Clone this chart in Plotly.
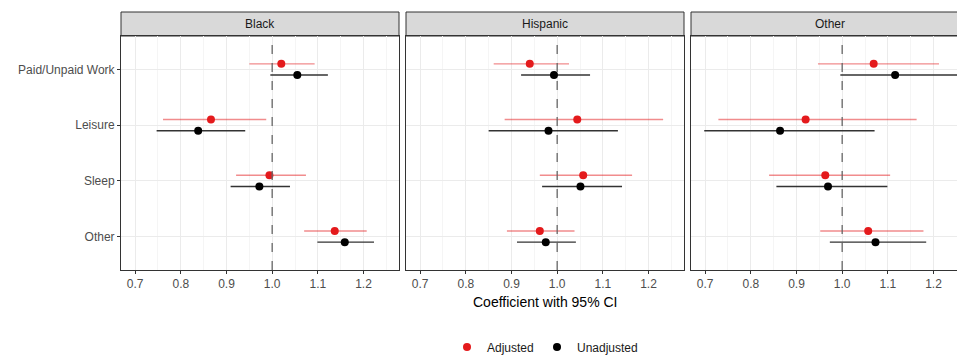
import plotly.graph_objects as go

# ---------------- data ----------------
panels = ["Black", "Hispanic", "Other"]
categories = ["Paid/Unpaid Work", "Leisure", "Sleep", "Other"]

# Adjusted estimates (point, lower, upper) per panel, in category order
adj_est = {
    "Black":    [1.020, 0.866, 0.994, 1.137],
    "Hispanic": [0.940, 1.044, 1.057, 0.962],
    "Other":    [1.069, 0.920, 0.963, 1.057],
}
adj_lo = {
    "Black":    [0.950, 0.761, 0.921, 1.070],
    "Hispanic": [0.861, 0.885, 0.962, 0.890],
    "Other":    [0.947, 0.729, 0.840, 0.952],
}
adj_hi = {
    "Black":    [1.093, 0.987, 1.074, 1.207],
    "Hispanic": [1.026, 1.232, 1.164, 1.038],
    "Other":    [1.212, 1.163, 1.105, 1.178],
}
# Unadjusted estimates
unadj_est = {
    "Black":    [1.055, 0.838, 0.972, 1.159],
    "Hispanic": [0.993, 0.981, 1.051, 0.975],
    "Other":    [1.116, 0.864, 0.969, 1.073],
}
unadj_lo = {
    "Black":    [0.996, 0.747, 0.909, 1.099],
    "Hispanic": [0.921, 0.850, 0.967, 0.912],
    "Other":    [0.996, 0.698, 0.856, 0.973],
}
unadj_hi = {
    "Black":    [1.122, 0.941, 1.039, 1.223],
    "Hispanic": [1.072, 1.133, 1.142, 1.041],
    "Other":    [1.260, 1.071, 1.099, 1.184],
}
x_tick_vals = [0.7, 0.8, 0.9, 1.0, 1.1, 1.2]
x_tick_text = ["0.7", "0.8", "0.9", "1.0", "1.1", "1.2"]
series_names = ["Adjusted", "Unadjusted"]

# ---------------- style ----------------
W, H = 957, 357
FONT = "Liberation Sans, Arial, sans-serif"
RED = "#E41A1C"
RED_LINE = "rgba(228,26,28,0.5)"
BLACK = "#000000"
BLACK_LINE = "#333333"
GRID = "#ebebeb"
MINOR_GRID = "#f5f5f5"
BORDER = "#333333"
DODGE = 0.1

def px_x(p):
    return p / W

def px_y(p):
    return 1 - p / H

panel_px = [(121, 399), (406, 684), (691, 957)]
plot_top, plot_bot = 36, 270
strip_top = 12
px_per_unit = 456.7
x_left = 0.669

ncat = len(categories)
cat_pos = [ncat - i for i in range(ncat)]  # top to bottom

fig = go.Figure()

for k, panel in enumerate(panels):
    xa = "x" if k == 0 else f"x{k+1}"
    ya = "y" if k == 0 else f"y{k+1}"
    for name, est, lo, hi, col, lcol, off, leg in [
        ("Adjusted", adj_est, adj_lo, adj_hi, RED, RED_LINE, DODGE, "legend"),
        ("Unadjusted", unadj_est, unadj_lo, unadj_hi, BLACK, BLACK_LINE, -DODGE, "legend2"),
    ]:
        e = est[panel]
        fig.add_trace(go.Scatter(
            x=e,
            y=[c + off for c in cat_pos],
            mode="markers",
            name=name,
            legendgroup=name,
            legend=leg,
            showlegend=(k == 0),
            marker=dict(color=col, size=8),
            error_x=dict(
                type="data", symmetric=False,
                array=[h - v for h, v in zip(hi[panel], e)],
                arrayminus=[v - l for v, l in zip(e, lo[panel])],
                color=lcol, thickness=1.4, width=0,
            ),
            xaxis=xa, yaxis=ya,
            cliponaxis=True,
        ))

legend_common = dict(
    orientation="h", xanchor="left",
    y=px_y(347), yanchor="middle",
    font=dict(size=12, color="#1a1a1a"),
    itemwidth=30, bgcolor="rgba(0,0,0,0)",
)

layout = dict(
    template="none",
    width=W, height=H,
    autosize=False,
    margin=dict(l=0, r=0, t=0, b=0, pad=0, autoexpand=False),
    paper_bgcolor="white", plot_bgcolor="white",
    font=dict(family=FONT, size=12, color="#4d4d4d"),
    showlegend=True,
    legend=dict(x=px_x(447), **legend_common),
    legend2=dict(x=px_x(537), **legend_common),
)

shapes = []
annotations = []
for k, panel in enumerate(panels):
    x0p, x1p = panel_px[k]
    width_px = x1p - x0p
    xkey = "xaxis" if k == 0 else f"xaxis{k+1}"
    ykey = "yaxis" if k == 0 else f"yaxis{k+1}"
    xa = "x" if k == 0 else f"x{k+1}"
    ya = "y" if k == 0 else f"y{k+1}"
    layout[xkey] = dict(
        domain=[px_x(x0p), px_x(x1p)],
        anchor=ya,
        automargin=False,
        range=[x_left, x_left + width_px / px_per_unit],
        tickvals=x_tick_vals, ticktext=x_tick_text,
        ticks="outside", ticklen=3, tickcolor=BORDER, tickwidth=1,
        tickfont=dict(size=12, color="#4d4d4d"),
        showgrid=True, gridcolor=GRID, gridwidth=1,
        minor=dict(tickvals=[0.75, 0.85, 0.95, 1.05, 1.15, 1.25],
                   showgrid=True, gridcolor=MINOR_GRID, gridwidth=1, ticks=""),
        showline=True, linecolor=BORDER, linewidth=1, mirror=True,
        zeroline=False, fixedrange=True,
    )
    layout[ykey] = dict(
        domain=[px_y(plot_bot), px_y(plot_top)],
        anchor=xa,
        automargin=False,
        range=[0.4, ncat + 0.6],
        tickvals=cat_pos, ticktext=categories,
        showticklabels=(k == 0),
        ticks="outside" if k == 0 else "",
        ticklen=3, tickcolor=BORDER,
        tickfont=dict(size=12, color="#4d4d4d"),
        showgrid=True, gridcolor=GRID, gridwidth=1,
        showline=True, linecolor=BORDER, linewidth=1,
        mirror=(k < 2),
        zeroline=False, fixedrange=True,
    )
    # reference line at 1
    shapes.append(dict(type="line", xref=xa, yref=f"{ya} domain",
                       x0=1.0, x1=1.0, y0=0, y1=1,
                       line=dict(color="#666666", width=1.3, dash="dash"),
                       layer="above"))
    # strip
    shapes.append(dict(type="rect", xref="paper", yref="paper",
                       x0=px_x(x0p), x1=px_x(x1p) if k < 2 else 1.01,
                       y0=px_y(plot_top), y1=px_y(strip_top),
                       fillcolor="#d9d9d9", line=dict(color=BORDER, width=1),
                       layer="below"))
    annotations.append(dict(text=panel, xref="paper", yref="paper",
                            x=px_x((x0p + x0p + 278) / 2),
                            y=px_y((strip_top + plot_top) / 2),
                            showarrow=False, xanchor="center", yanchor="middle",
                            font=dict(size=12, color="#1a1a1a")))

annotations.append(dict(text="Coefficient with 95% CI", xref="paper", yref="paper",
                        x=px_x(545), y=px_y(302), showarrow=False,
                        xanchor="center", yanchor="middle",
                        font=dict(size=14, color="#000000")))

layout["shapes"] = shapes
layout["annotations"] = annotations
fig.update_layout(**layout)

fig.write_html(
    "out.html",
    config={"displayModeBar": False},
    post_script="document.body.style.margin='0';document.body.style.overflow='hidden';",
)
